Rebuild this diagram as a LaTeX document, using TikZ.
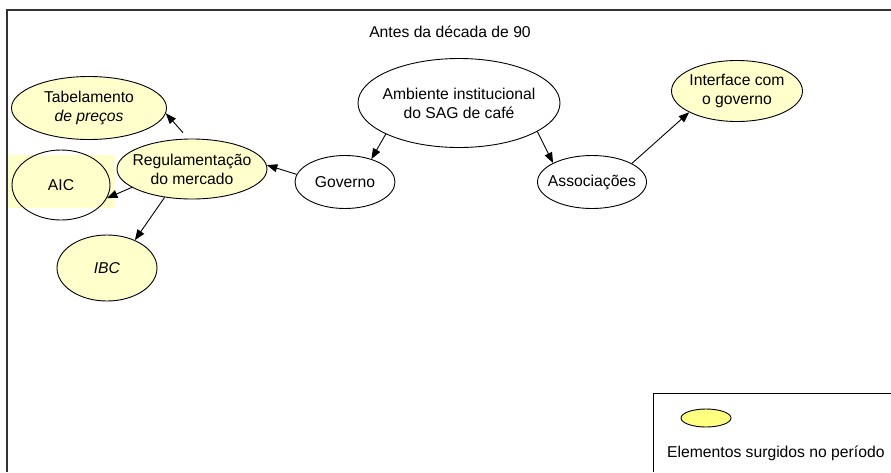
\documentclass[tikz,border=0pt]{standalone}
\usepackage{fontspec}
\setmainfont{Liberation Sans}
\usetikzlibrary{shapes.geometric, arrows.meta, positioning}
\definecolor{creme}{RGB}{255,255,204}
\definecolor{amarelo}{RGB}{255,255,128}
\tikzstyle{elem} = [ellipse, draw=black, line width=0.9pt, fill=white, inner sep=-25pt, align=center]
\tikzstyle{novo} = [elem, fill=creme]
\tikzstyle{arrow} = [line width=0.9pt,-{Triangle[length=10.5pt,width=8pt]}]
\tikzstyle{moldura} = [line width=1.5pt, draw=black!80]

\begin{document}
\begin{tikzpicture}[x=1pt, y=1pt, node distance=79pt, font=\fontsize{15.7}{19}\selectfont]
\useasboundingbox (0,0) rectangle (891,-472);

\draw [moldura] (7,-472) -- (7,-10) -- (891,-10);
\fill [creme] (8,-155) rectangle (115,-208);

\node (amb) [elem, minimum width=202pt, minimum height=89pt] at (459,-103) {Ambiente institucional\\do SAG de café};
\node (titulo) [above of=amb, xshift=-9pt, yshift=-8pt] {Antes da década de 90};
\node (gov) [elem, minimum width=100pt, minimum height=53pt, below of=amb, xshift=-114pt] {Governo};
\node (assoc) [elem, minimum width=109pt, minimum height=53pt, below of=amb, xshift=133pt] {Associações};
\node (iface) [novo, minimum width=131pt, minimum height=61pt, above of=assoc, xshift=145pt, yshift=12pt] {Interface com\\o governo};
\node (reg) [novo, minimum width=150pt, minimum height=60pt, left of=gov, xshift=-74pt, yshift=13pt] {Regulamentação\\do mercado};
\node (tab) [novo, minimum width=155pt, minimum height=63pt, above of=reg, xshift=-103pt, yshift=-18pt] {Tabelamento\\\textit{de preços}};
\node (aic) [elem, fill=none, minimum width=98pt, minimum height=70pt, left of=reg, xshift=-52pt, yshift=-16pt] {AIC};
\node (ibc) [novo, minimum width=100pt, minimum height=66pt, below of=reg, xshift=-85pt, yshift=-20pt] {\textit{IBC}};

\draw [arrow] (amb.203) -- (gov.41);
\draw [arrow] (amb.340) -- (assoc.154);
\draw [arrow] (assoc.25) -- (iface.204);
\draw [arrow] (gov.171) -- (reg.3);
\draw [arrow, shorten <=8pt] (reg.97) -- (tab.-4);
\draw [arrow] (reg.197) -- (aic.-16);
\draw [arrow] (reg.226) -- (ibc.45);

% legenda
\draw [line width=0.9pt] (653,-472) -- (653,-393) -- (891,-393);
\node (legelipse) [ellipse, draw=black, line width=0.9pt, fill=amarelo, inner sep=0pt, minimum width=50pt, minimum height=18pt] at (706,-418) {};
\node (legtexto) [anchor=west, inner sep=0pt] at (667,-453) {Elementos surgidos no período};

\end{tikzpicture}
\end{document}
